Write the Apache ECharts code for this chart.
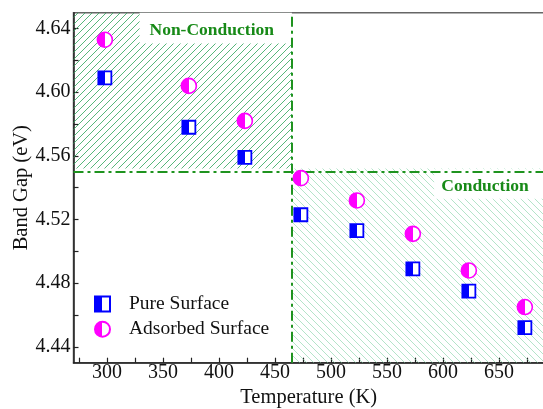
<!DOCTYPE html>
<html>
<head>
<meta charset="utf-8">
<script src="https://cdn.jsdelivr.net/npm/echarts@6/dist/echarts.min.js"></script>
<style>html,body{margin:0;padding:0;background:#fff;}#c{width:543px;height:409px;}</style>
</head>
<body>
<div id="c"></div>
<script>
const temps = [298, 373, 423, 473, 523, 573, 623, 673];
const pureGap = [4.609, 4.578, 4.559, 4.523, 4.513, 4.489, 4.475, 4.452];
const adsorbedGap = [4.633, 4.604, 4.582, 4.546, 4.532, 4.511, 4.488, 4.465];
const seriesNames = ['Pure Surface', 'Adsorbed Surface'];
const xTickLabels = [300, 350, 400, 450, 500, 550, 600, 650];
const xTicks = [275, 300, 325, 350, 375, 400, 425, 450, 475, 500, 525, 550, 575, 600, 625, 650, 675];
const yTickLabels = [4.44, 4.48, 4.52, 4.56, 4.60, 4.64];
const yTicks = [4.44, 4.46, 4.48, 4.50, 4.52, 4.54, 4.56, 4.58, 4.60, 4.62, 4.64];
const xRange = [270, 690];
const yRange = [4.43, 4.65];
const boundaryT = 465;
const boundaryGap = 4.552;
const regionNames = ['Non-Conduction', 'Conduction'];

const FONT = 'Liberation Serif';
const GREEN = '#178a17';

function hatch(color, dir) {
  const s = 7;
  const c = document.createElement('canvas');
  c.width = s; c.height = s;
  const g = c.getContext('2d');
  g.strokeStyle = color; g.lineWidth = 1;
  g.beginPath();
  if (dir > 0) {
    g.moveTo(0, s); g.lineTo(s, 0);
    g.moveTo(-1, 1); g.lineTo(1, -1);
    g.moveTo(s - 1, s + 1); g.lineTo(s + 1, s - 1);
  } else {
    g.moveTo(0, 0); g.lineTo(s, s);
    g.moveTo(-1, s - 1); g.lineTo(1, s + 1);
    g.moveTo(s - 1, -1); g.lineTo(s + 1, 1);
  }
  g.stroke();
  return { image: c, repeat: 'repeat' };
}

function halfFill(col) {
  return new echarts.graphic.LinearGradient(0, 0, 1, 0, [
    { offset: 0, color: col }, { offset: 0.5, color: col },
    { offset: 0.5, color: '#ffffff' }, { offset: 1, color: '#ffffff' }
  ]);
}

const chart = echarts.init(document.getElementById('c'), null, { renderer: 'canvas' });
const option = {
  animation: false,
  backgroundColor: '#fff',
  grid: {
    left: 73.5, top: 12.7, width: 470.4, height: 350,
    show: true, borderColor: '#666', borderWidth: 1.5, backgroundColor: 'transparent',
    outerBoundsMode: 'none', containLabel: false
  },
  legend: {
    data: seriesNames,
    orient: 'vertical', left: 89, top: 289,
    itemWidth: 15, itemHeight: 15, itemGap: 5.2,
    textStyle: { fontFamily: FONT, fontSize: 19.5, color: '#111', padding: [0, 0, 0, 14] }
  },
  xAxis: {
    type: 'value', min: xRange[0], max: xRange[1],
    name: 'Temperature (K)', nameLocation: 'middle', nameGap: 24, nameMoveOverlap: false,
    nameTextStyle: { fontFamily: FONT, fontSize: 20.5, color: '#111' },
    axisLine: { show: true, onZero: false, lineStyle: { color: '#222', width: 1.5 } },
    axisTick: { show: true, inside: true, length: 5, customValues: xTicks, lineStyle: { color: '#222', width: 1.2 } },
    axisLabel: { customValues: xTickLabels, fontFamily: FONT, fontSize: 20, color: '#111', margin: 0 },
    splitLine: { show: false }
  },
  yAxis: {
    type: 'value', min: yRange[0], max: yRange[1],
    name: 'Band Gap (eV)', nameLocation: 'middle', nameGap: 41, nameMoveOverlap: false,
    nameTextStyle: { fontFamily: FONT, fontSize: 20.5, color: '#111' },
    axisLine: { show: true, onZero: false, lineStyle: { color: '#222', width: 1.5 } },
    axisTick: { show: true, inside: true, length: 5, customValues: yTicks, lineStyle: { color: '#222', width: 1.2 } },
    axisLabel: { customValues: yTickLabels, fontFamily: FONT, fontSize: 20, color: '#111', margin: 3,
      formatter: v => Number(v).toFixed(2) },
    splitLine: { show: false }
  },
  series: [
    {
      name: 'hatch', type: 'scatter', data: [], z: 1, silent: true,
      markArea: {
        silent: true,
        data: [
          [{ coord: [xRange[0], boundaryGap], itemStyle: { color: hatch('rgba(45,165,90,0.8)', 1) } },
           { coord: [boundaryT, yRange[1]] }],
          [{ coord: [boundaryT, yRange[0]], itemStyle: { color: hatch('rgba(130,210,165,0.6)', -1) } },
           { coord: [xRange[1], boundaryGap] }]
        ]
      }
    },
    {
      name: 'boxes', type: 'scatter', data: [], z: 2, silent: true,
      markArea: {
        silent: true,
        itemStyle: { color: '#ffffff' },
        label: { show: true, position: 'inside', fontFamily: FONT, fontSize: 17.5, fontWeight: 'bold', color: GREEN },
        data: [
          [{ name: regionNames[0], coord: [329, 4.6306], label: { offset: [-4, 2] } },
           { coord: [boundaryT, yRange[1]] }],
          [{ name: regionNames[1], coord: [592, 4.533], label: { offset: [-4, 2] } },
           { coord: [xRange[1], boundaryGap - 0.0004] }]
        ]
      }
    },
    {
      name: 'bounds', type: 'scatter', data: [], z: 3, silent: true,
      markLine: {
        silent: true, symbol: 'none', label: { show: false },
        lineStyle: { color: '#1f931f', width: 2, type: [10, 4, 3, 4] },
        data: [{ xAxis: boundaryT }, { yAxis: boundaryGap }]
      }
    },
    {
      name: seriesNames[0], type: 'scatter', z: 5,
      symbol: 'rect', symbolSize: 13,
      itemStyle: { color: halfFill('#0000ff'), borderColor: '#0000ff', borderWidth: 1.8, opacity: 1 },
      data: temps.map((t, i) => [t, pureGap[i]])
    },
    {
      name: seriesNames[1], type: 'scatter', z: 5,
      symbol: 'circle', symbolSize: 15,
      itemStyle: { color: halfFill('#ff00ff'), borderColor: '#ff00ff', borderWidth: 1.6, opacity: 1 },
      data: temps.map((t, i) => [t, adsorbedGap[i]])
    }
  ]
};
chart.setOption(option);
</script>
</body>
</html>
